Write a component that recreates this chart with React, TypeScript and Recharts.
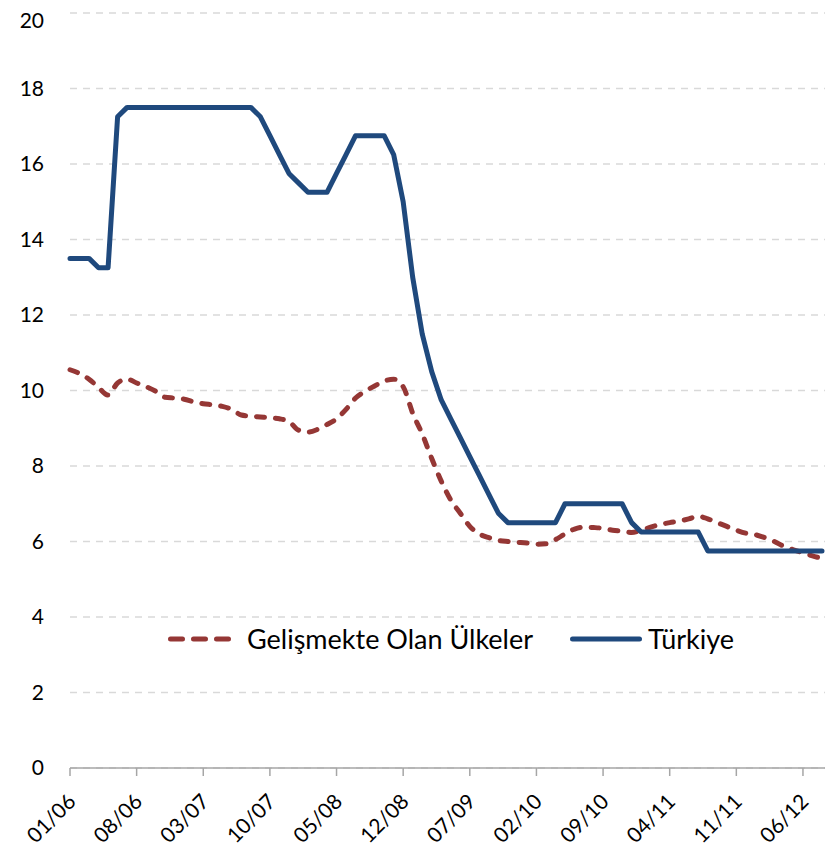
import React from "react"
import { LineChart, Line, XAxis, YAxis, CartesianGrid, Legend } from "recharts"

// monthly, 01/06 .. 08/12
const startYear = 2006
const monthCount = 80

const turkiye = [
  13.5, 13.5, 13.5, 13.25, 13.25, 17.25, 17.5, 17.5, 17.5, 17.5,
  17.5, 17.5, 17.5, 17.5, 17.5, 17.5, 17.5, 17.5, 17.5, 17.5,
  17.25, 16.75, 16.25, 15.75, 15.5, 15.25, 15.25, 15.25, 15.75, 16.25,
  16.75, 16.75, 16.75, 16.75, 16.25, 15.0, 13.0, 11.5, 10.5, 9.75,
  9.25, 8.75, 8.25, 7.75, 7.25, 6.75, 6.5, 6.5, 6.5, 6.5,
  6.5, 6.5, 7.0, 7.0, 7.0, 7.0, 7.0, 7.0, 7.0, 6.5,
  6.25, 6.25, 6.25, 6.25, 6.25, 6.25, 6.25, 5.75, 5.75, 5.75,
  5.75, 5.75, 5.75, 5.75, 5.75, 5.75, 5.75, 5.75, 5.75, 5.75,
]

const gelismekte = [
  10.55, 10.45, 10.3, 10.08, 9.88, 10.2, 10.3, 10.2, 10.1, 9.98,
  9.82, 9.8, 9.77, 9.7, 9.65, 9.62, 9.58, 9.5, 9.35, 9.32,
  9.3, 9.28, 9.25, 9.18, 8.95, 8.9, 8.97, 9.1, 9.25, 9.5,
  9.8, 9.98, 10.12, 10.25, 10.3, 10.1, 9.4, 8.85, 8.2, 7.6,
  7.1, 6.75, 6.4, 6.2, 6.1, 6.03, 6.0, 5.98, 5.96, 5.93,
  5.94, 6.05, 6.2, 6.33, 6.38, 6.37, 6.35, 6.3, 6.27, 6.24,
  6.3, 6.38, 6.45, 6.5, 6.54, 6.6, 6.67, 6.6, 6.5, 6.4,
  6.3, 6.22, 6.18, 6.1, 6.0, 5.87, 5.78, 5.7, 5.62, 5.55,
]

const yTicks = [0, 2, 4, 6, 8, 10, 12, 14, 16, 18, 20]

const months = Array.from({ length: monthCount }, (_, i) => {
  const m = (i % 12) + 1
  const y = (startYear + Math.floor(i / 12)) % 100
  return `${String(m).padStart(2, "0")}/${String(y).padStart(2, "0")}`
})

const data = months.map((month, i) => ({
  month,
  gelismekte: gelismekte[i],
  turkiye: turkiye[i],
}))

const FONT = "Lato, 'Open Sans', sans-serif"
const RED = "#953735"
const BLUE = "#1F497D"

const XTick = (props: any) => {
  const { x, y, payload } = props
  return (
    <g transform={`translate(${x + 7},${y + 27}) rotate(-45)`}>
      <text x={0} y={0} textAnchor="end" fontFamily={FONT} fontSize={21} fill="#000">
        {payload.value}
      </text>
    </g>
  )
}

const renderLegend = () => (
  <div style={{ display: "flex", alignItems: "center", fontFamily: FONT, fontSize: 27, color: "#000", whiteSpace: "nowrap" }}>
    <svg width={64} height={10}>
      <line x1={2.5} x2={61.5} y1={5} y2={5} stroke={RED} strokeWidth={5} strokeLinecap="round" strokeDasharray="12 11" />
    </svg>
    <span style={{ marginLeft: 15 }}>Gelişmekte Olan Ülkeler</span>
    <svg width={72} height={10} style={{ marginLeft: 37 }}>
      <line x1={2.5} x2={69.5} y1={5} y2={5} stroke={BLUE} strokeWidth={5} strokeLinecap="round" />
    </svg>
    <span style={{ marginLeft: 6 }}>Türkiye</span>
  </div>
)

export default function App() {
  return (
    <LineChart width={831} height={846} data={data} margin={{ top: 5, right: 14, left: 0, bottom: 0 }}>
      <CartesianGrid vertical={false} stroke="#D9D9D9" strokeWidth={1.5} strokeDasharray="7 6" />
      <XAxis
        dataKey="month"
        interval={6}
        height={86}
        padding={{ left: 0, right: 3 }}
        axisLine={{ stroke: "#A6A6A6", strokeWidth: 1.5 }}
        tickLine={{ stroke: "#A6A6A6", strokeWidth: 1.5 }}
        tickSize={8}
        tickMargin={0}
        tick={<XTick />}
      />
      <YAxis
        domain={[0, 20]}
        ticks={yTicks}
        width={62}
        axisLine={false}
        tickLine={false}
        tickMargin={20}
        tick={{ fontFamily: FONT, fontSize: 21, fill: "#000" }}
      />
      <Legend
        content={renderLegend}
        layout="horizontal"
        verticalAlign="middle"
        align="center"
        wrapperStyle={{ top: 614, left: 160, width: "auto" }}
      />
      <Line
        type="monotone"
        dataKey="gelismekte"
        name="Gelişmekte Olan Ülkeler"
        stroke={RED}
        strokeWidth={5}
        strokeLinecap="round"
        strokeDasharray="8 11"
        dot={false}
        isAnimationActive={false}
      />
      <Line
        type="linear"
        dataKey="turkiye"
        name="Türkiye"
        stroke={BLUE}
        strokeWidth={5}
        strokeLinejoin="round"
        strokeLinecap="round"
        dot={false}
        isAnimationActive={false}
      />
    </LineChart>
  )
}
